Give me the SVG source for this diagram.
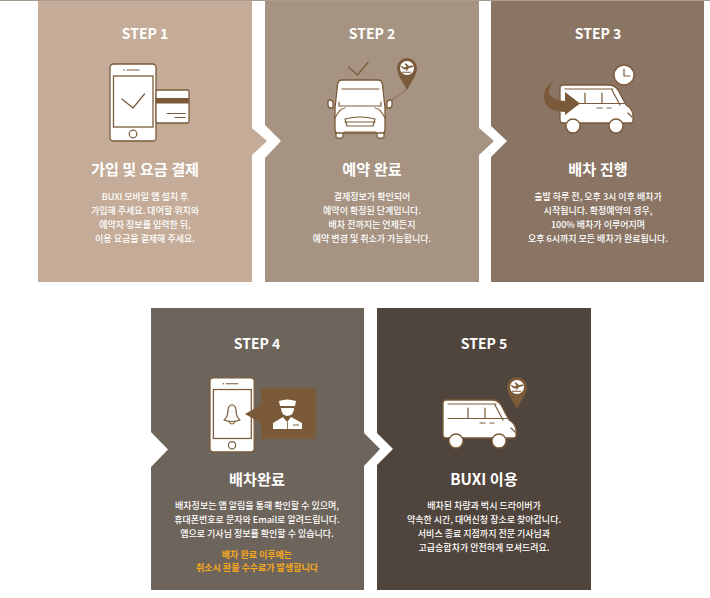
<svg xmlns="http://www.w3.org/2000/svg" xmlns:xlink="http://www.w3.org/1999/xlink" width="710" height="598" viewBox="0 0 710 598">
<style>
text{font-family:"Noto Sans CJK KR","Noto Sans",sans-serif;fill:#fff;text-anchor:middle}
.s{font-size:14px;font-weight:700}
.t{font-size:15.2px;font-weight:700}
.b{font-size:9px;font-weight:500}
.o{font-size:9px;font-weight:700;fill:#f5a81c}
.ln{fill:none;stroke:#7a5a38;stroke-width:1.2;stroke-linecap:round;stroke-linejoin:round}
.w{fill:#fff;stroke:#7a5a38;stroke-width:1.3;stroke-linejoin:round}
.br{fill:#7a5a38}
</style>
<defs>
<g id="van">
<path class="w" d="M563 85H609Q615 85 618 90L626 105Q632 108 633 115V121Q633 123 630 123H563Q560 123 560 120V88Q560 85 563 85Z"/>
<path class="ln" d="M565 89H613M565 103.500H624M585 93V103M602 93V103M612 90L620 105M597 108H602M607 108H611M628 113L632 117"/>
<circle class="w" cx="573" cy="126" r="7"/><circle class="w" cx="616" cy="126" r="7"/>
</g>
<g id="pin">
<path class="br" d="M0 22C-4 14-10 7-10 0A10 10 0 0 1 10 0C10 7 4 14 0 22Z"/>
<circle r="7" fill="#fff"/>
<path class="br" d="M-6.500 -1.500L-5 -2L-3 -0.500L4.500 -2.500Q6.800 -2.800 6.500 -1.200L-3 1.500ZM-2.500 -4.500H-1L2 -2L-0.500 -1.300ZM-0.500 0.800L2 0.200L-0.500 2.800H-1.500ZM-5 3.800H4V4.700H-5Z"/>
</g>
<g id="phone">
<rect class="w" x="0" y="0" width="46" height="77" rx="3.500"/>
<rect x="3.500" y="12" width="39.500" height="51" fill="#fff" stroke="#7a5a38" stroke-width="1.300"/>
<path class="ln" d="M17 6H29"/><circle class="br" cx="14" cy="6" r="0.800"/>
<circle class="ln" cx="23" cy="70" r="3.800"/>
</g>
</defs>
<rect x="0" y="0" width="710" height="1" fill="#a89c90"/>
<g id="step1">
<path d="M38 1H252V128L267 141L252 155V282H38Z" fill="#c4ac98"/>
<text class="s" x="145" y="39">STEP 1</text>
<use xlink:href="#phone" href="#phone" x="110" y="64"/>
<path class="ln" d="M122 99L133 108L144.500 94"/>
<rect class="w" x="156" y="90" width="33" height="33" rx="1.500"/>
<rect class="br" x="156" y="98" width="33" height="5.500"/>
<path class="ln" d="M167 113.500H185M175 117.500H185"/>
<text class="t" x="145" y="175">가입 및 요금 결제</text>
<text class="b" x="145" y="200">BUXI 모바일 앱 설치 후</text>
<text class="b" x="145" y="214">가입해 주세요. 대여할 위치와</text>
<text class="b" x="145" y="228">예약자 정보를 입력한 뒤,</text>
<text class="b" x="145" y="242">이용 요금을 결제해 주세요.</text>
</g>
<g id="step2">
<path d="M265 1H479V128L494 141L479 155V282H265V158L281 141L265 125Z" fill="#a69382"/>
<text class="s" x="372" y="39">STEP 2</text>
<path class="ln" d="M348.500 67L357.500 75L368 62.500"/>
<path class="w" d="M328 102Q328 100 330 100Q333 100 333 103V108L331 108Q328 108 328 105Z"/>
<path class="w" d="M392 102Q392 100 390 100Q387 100 387 103V108L389 108Q392 108 392 105Z"/>
<path class="w" d="M336 131H343V137Q339.500 140 336 137ZM377 131H384V137Q380.500 140 377 137Z"/>
<path class="w" d="M342 80H378Q382 80 382.500 85L385 108V130Q385 133 382 133H338Q335 133 335 130V108L337.500 85Q338 80 342 80Z"/>
<path class="ln" d="M342 89H379M339 102V106H381V102M335 118Q340 108 345 108M385 118Q380 108 375 108M345 119Q360 115 375 119L373 126H347Z M345 122H375M344 132H376"/>
<path d="M392 100L407 89" fill="none" stroke="#7a5a38" stroke-width="1.200" stroke-dasharray="1.500 1.500"/>
<use xlink:href="#pin" href="#pin" x="407" y="68"/>
<text class="t" x="372" y="175">예약 완료</text>
<text class="b" x="372" y="200">결제정보가 확인되어</text>
<text class="b" x="372" y="214">예약이 확정된 단계입니다.</text>
<text class="b" x="372" y="228">배차 전까지는 언제든지</text>
<text class="b" x="372" y="242">예약 변경 및 취소가 가능합니다.</text>
</g>
<g id="step3">
<path d="M491 1H704V282H491V157L507 141L491 126Z" fill="#8a7564"/>
<text class="s" x="598" y="39">STEP 3</text>
<use xlink:href="#van" href="#van"/>
<path class="br" d="M553 82Q544 86 544 96Q544 111 565 112V115L580 103.500L565 92V101Q553 101 549 93Q549 87 553 82Z"/>
<circle class="w" cx="624" cy="75" r="10"/>
<path class="ln" d="M624 69V76H630"/>
<text class="t" x="598" y="175">배차 진행</text>
<text class="b" x="598" y="200">출발 하루 전, 오후 3시 이후 배차가</text>
<text class="b" x="598" y="214">시작됩니다. 확정예약의 경우,</text>
<text class="b" x="598" y="228">100% 배차가 이루어지며</text>
<text class="b" x="598" y="242">오후 6시까지 모든 배차가 완료됩니다.</text>
</g>
<g id="step4">
<path d="M151 308H364V433L380 449L364 466V590H151V467L168 449.500L151 432Z" fill="#6d645c"/>
<text class="s" x="257" y="349">STEP 4</text>
<use xlink:href="#phone" href="#phone" transform="translate(210 378) scale(0.96 0.96)"/>
<path class="ln" d="M224 420Q228 417 228 410Q228.500 405 232 405Q235.500 405 236 410Q236 417 240 420Q232 423 224 420ZM229 422Q232 426 235 422"/>
<path class="br" d="M261 388H316V439H261V423L245 414L261 405Z"/>
<g fill="#fff">
<path d="M279 401Q287 398 296 401L295 406H280Z"/>
<path d="M281 408H294Q294 415 287.500 416Q281 415 281 408Z"/>
<path d="M273 429V423L283 417L286 421L288 421L291 417L302 423V429Z"/>
</g>
<path d="M287.500 420V429" stroke="#7a5a38" stroke-width="0.800"/>
<path d="M293 425H299" stroke="#7a5a38" stroke-width="1"/>
<text class="t" x="257" y="485">배차완료</text>
<text class="b" x="257" y="509">배차정보는 앱 알림을 통해 확인할 수 있으며,</text>
<text class="b" x="257" y="523">휴대폰번호로 문자와 Email로 알려드립니다.</text>
<text class="b" x="257" y="537">앱으로 기사님 정보를 확인할 수 있습니다.</text>
<text class="o" x="257" y="558">배차 완료 이후에는</text>
<text class="o" x="257" y="571">취소시 환불 수수료가 발생합니다</text>
</g>
<g id="step5">
<path d="M377 308H591V590H377V465L393 449L377 433Z" fill="#50453c"/>
<text class="s" x="484" y="349">STEP 5</text>
<use xlink:href="#van" href="#van" transform="translate(-117 315)"/>
<use xlink:href="#pin" href="#pin" x="517" y="387"/>
<text class="t" x="484" y="485">BUXI 이용</text>
<text class="b" x="484" y="509">배차된 차량과 벅시 드라이버가</text>
<text class="b" x="484" y="523">약속한 시간, 대여신청 장소로 찾아갑니다.</text>
<text class="b" x="484" y="537">서비스 종료 지점까지 전문 기사님과</text>
<text class="b" x="484" y="551">고급승합차가 안전하게 모셔드려요.</text>
</g>
</svg>
